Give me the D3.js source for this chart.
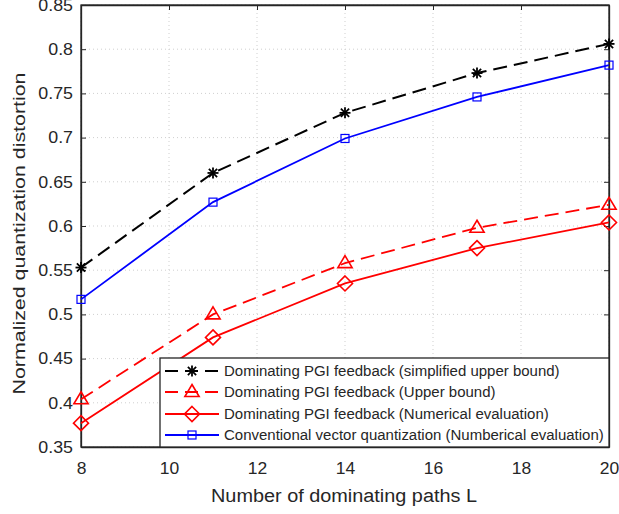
<!DOCTYPE html>
<html><head><meta charset="utf-8">
<script src="https://cdn.jsdelivr.net/npm/d3@7"></script>
<style>body{margin:0;background:#fff;} text{font-family:"Liberation Sans",Arial,sans-serif;}</style>
</head><body>
<svg id="c" width="619" height="514"></svg>
<script>
const xValues = [8, 11, 14, 17, 20];
const simplifiedUpper = [0.553, 0.660, 0.728, 0.773, 0.806];
const upperBound = [0.404, 0.500, 0.558, 0.598, 0.624];
const numerical = [0.377, 0.474, 0.535, 0.575, 0.604];
const conventional = [0.517, 0.627, 0.699, 0.746, 0.782];
const xTicks = [8, 10, 12, 14, 16, 18, 20];
const yTicks = [0.35, 0.4, 0.45, 0.5, 0.55, 0.6, 0.65, 0.7, 0.75, 0.8, 0.85];
const seriesNames = [
  "Dominating PGI feedback (simplified upper bound)",
  "Dominating PGI feedback (Upper bound)",
  "Dominating PGI feedback (Numerical evaluation)",
  "Conventional vector quantization (Numberical evaluation)"
];

const L = 81, R = 609, T = 5, B = 447;
const svg = d3.select("#c");
const x = d3.scaleLinear().domain([8, 20]).range([L, R]);
const y = d3.scaleLinear().domain([0.35, 0.85]).range([B, T]);
const axisColor = "#262626";

function stretch(sel, f) {
  sel.each(function() {
    const w = this.getComputedTextLength();
    d3.select(this).attr("textLength", w * f).attr("lengthAdjust", "spacingAndGlyphs");
  });
}

// grid
const grid = svg.append("g");
xTicks.forEach(t => grid.append("line").attr("x1", x(t)).attr("x2", x(t)).attr("y1", T).attr("y2", B)
  .attr("stroke", "#cfcfcf").attr("stroke-width", 1).attr("stroke-dasharray", "1,3"));
yTicks.forEach(t => grid.append("line").attr("x1", L).attr("x2", R).attr("y1", y(t)).attr("y2", y(t))
  .attr("stroke", "#cfcfcf").attr("stroke-width", 1).attr("stroke-dasharray", "1,3"));

// axes
const fmtY = d => String(+d.toFixed(2));
const ax = svg.append("g").attr("transform", `translate(0,${B})`)
  .call(d3.axisBottom(x).tickValues(xTicks).tickSizeInner(-5).tickSizeOuter(0).tickPadding(15));
const ay = svg.append("g").attr("transform", `translate(${L},0)`)
  .call(d3.axisLeft(y).tickValues(yTicks).tickFormat(fmtY).tickSizeInner(-5).tickSizeOuter(0).tickPadding(8));
const axT = svg.append("g").attr("transform", `translate(0,${T})`)
  .call(d3.axisTop(x).tickValues(xTicks).tickSizeInner(-5).tickSizeOuter(0).tickFormat(""));
const ayR = svg.append("g").attr("transform", `translate(${R},0)`)
  .call(d3.axisRight(y).tickValues(yTicks).tickSizeInner(-5).tickSizeOuter(0).tickFormat(""));
[ax, ay, axT, ayR].forEach(g => {
  g.selectAll("path").attr("stroke", axisColor).attr("stroke-width", 1.3);
  g.selectAll("line").attr("stroke", axisColor).attr("stroke-width", 1);
  g.selectAll("text").attr("fill", axisColor).attr("font-size", 16.5).style("font-family", "'Liberation Sans',Arial,sans-serif");
});
stretch(ax.selectAll("text"), 1.06);
stretch(ay.selectAll("text"), 1.08);
svg.append("rect").attr("x", L).attr("y", T).attr("width", R - L).attr("height", B - T)
  .attr("fill", "none").attr("stroke", axisColor).attr("stroke-width", 1.3);

// labels
svg.append("text").attr("x", 344).attr("y", 502).attr("text-anchor", "middle")
  .attr("font-size", 18).attr("fill", axisColor).attr("textLength", 266).attr("lengthAdjust", "spacingAndGlyphs")
  .text("Number of dominating paths L");
svg.append("text").attr("transform", `translate(25,233.5) rotate(-90)`).attr("text-anchor", "middle")
  .attr("font-size", 17).attr("fill", axisColor).attr("textLength", 322).attr("lengthAdjust", "spacingAndGlyphs")
  .text("Normalized quantization distortion");

// markers
function drawMarker(g, type, cx, cy, color) {
  if (type === "star") {
    const r = 5.5;
    const s = g.append("g").attr("stroke", color).attr("stroke-width", 1.8);
    s.append("line").attr("x1", cx - r).attr("x2", cx + r).attr("y1", cy).attr("y2", cy);
    s.append("line").attr("x1", cx).attr("x2", cx).attr("y1", cy - r).attr("y2", cy + r);
    const d = r * 0.75;
    s.append("line").attr("x1", cx - d).attr("x2", cx + d).attr("y1", cy - d).attr("y2", cy + d);
    s.append("line").attr("x1", cx - d).attr("x2", cx + d).attr("y1", cy + d).attr("y2", cy - d);
  } else if (type === "tri") {
    const r = 7.5;
    g.append("path").attr("d", `M${cx},${cy - r}L${cx + r * 0.95},${cy + r * 0.6}L${cx - r * 0.95},${cy + r * 0.6}Z`)
      .attr("fill", "none").attr("stroke", color).attr("stroke-width", 1.6);
  } else if (type === "dia") {
    const r = 7.5;
    g.append("path").attr("d", `M${cx},${cy - r}L${cx + r},${cy}L${cx},${cy + r}L${cx - r},${cy}Z`)
      .attr("fill", "none").attr("stroke", color).attr("stroke-width", 1.6);
  } else if (type === "sq") {
    const r = 4;
    g.append("rect").attr("x", cx - r).attr("y", cy - r).attr("width", 2 * r).attr("height", 2 * r)
      .attr("fill", "none").attr("stroke", color).attr("stroke-width", 1.2);
  }
}

const series = [
  {vals: simplifiedUpper, color: "#000000", dash: "14,7", marker: "star", w: 2},
  {vals: upperBound, color: "#ff0000", dash: "14,7", marker: "tri", w: 1.8},
  {vals: numerical, color: "#ff0000", dash: null, marker: "dia", w: 1.8},
  {vals: conventional, color: "#0000ff", dash: null, marker: "sq", w: 1.8}
];
const line = d3.line().x(d => x(d[0])).y(d => y(d[1]));
const plot = svg.append("g");
series.forEach(s => {
  const pts = xValues.map((v, i) => [v, s.vals[i]]);
  plot.append("path").attr("d", line(pts)).attr("fill", "none").attr("stroke", s.color)
    .attr("stroke-width", s.w).attr("stroke-dasharray", s.dash);
  pts.forEach(p => drawMarker(plot, s.marker, x(p[0]), y(p[1]), s.color));
});

// legend
const lg = svg.append("g");
lg.append("rect").attr("x", 160).attr("y", 358).attr("width", R - 160).attr("height", B - 358)
  .attr("fill", "#fff").attr("stroke", axisColor).attr("stroke-width", 1.3);
const rowY = [371, 392, 414, 435];
series.forEach((s, i) => {
  const yy = rowY[i];
  lg.append("line").attr("x1", 165).attr("x2", 219).attr("y1", yy).attr("y2", yy)
    .attr("stroke", s.color).attr("stroke-width", s.w).attr("stroke-dasharray", s.dash ? "13,7" : null);
  drawMarker(lg, s.marker, 192, yy, s.color);
  const t = lg.append("text").attr("x", 224).attr("y", yy + 5).attr("font-size", 14).attr("fill", axisColor).text(seriesNames[i]);
  stretch(t, 1.07);
});
</script>
</body></html>
